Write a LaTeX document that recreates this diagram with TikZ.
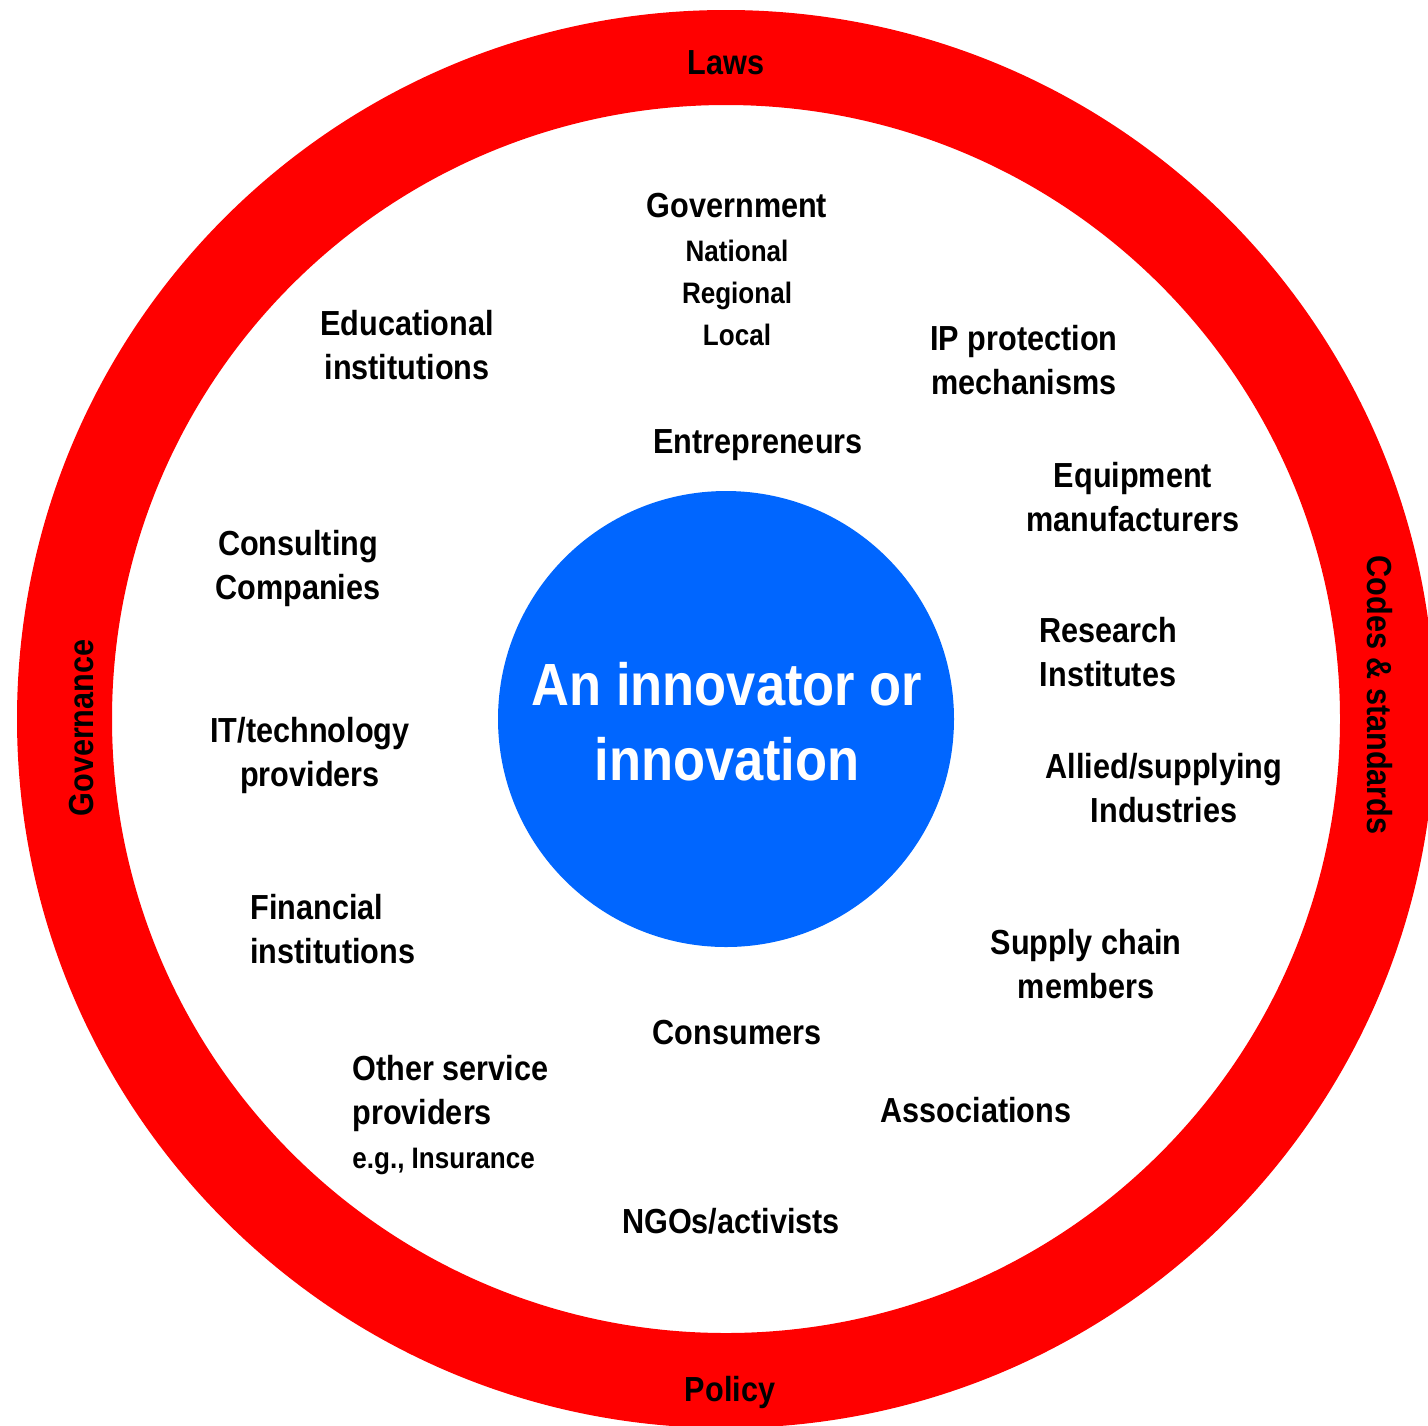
\documentclass[tikz,border=0pt]{standalone}
\usepackage{fontspec}
\setmainfont[FakeStretch=0.88]{Liberation Sans}
\definecolor{ringred}{RGB}{255,0,0}
\definecolor{coreblue}{RGB}{0,102,255}
\begin{document}
\begin{tikzpicture}[x=0.5pt,y=-0.5pt,
  lbl/.style={align=center,inner sep=0pt,font=\bfseries\fontsize{17.4}{22}\selectfont},
  sub/.style={align=center,inner sep=0pt,font=\bfseries\fontsize{14.8}{21}\selectfont},
  ringlbl/.style={inner sep=0pt,font=\bfseries\fontsize{17.4}{22}\selectfont}]
\useasboundingbox (0,0) rectangle (1428,1425);
\fill[white] (0,0) rectangle (1428,1425);
% ring
\fill[ringred,even odd rule] (726,719) circle (354.5pt) (726,719) circle (307pt);
\node[circle,fill=coreblue,minimum size=228pt,inner sep=0pt] (core) at (726,719) {};
\node[align=center,inner sep=0pt,text=white,font=\bfseries\fontsize{29.8}{37.5}\selectfont] (coretext) at (727,722) {An innovator or\\innovation};
% ring labels
\node[ringlbl] (laws) at (726,63) {Laws};
\node[ringlbl] (policy) at (730,1392) {Policy};
\node[ringlbl,rotate=90] (gov) at (82,728) {Governance};
\node[ringlbl,rotate=-90] (codes) at (1380,695) {Codes \& standards};
% actors
\node[lbl] (government) at (737,206) {Government};
\node[sub] (levels) at (737,293) {National\\Regional\\Local};
\node[lbl] (edu) at (407,345) {Educational\\institutions};
\node[lbl] (ip) at (1024,360) {IP protection\\mechanisms};
\node[lbl] (entre) at (758,445) {Entrepreneurs};
\node[lbl] (equip) at (1133,497) {Equipment\\manufacturers};
\node[lbl] (consult) at (298,568) {Consulting\\Companies};
\node[lbl] (research) at (1108,652) {Research\\Institutes};
\node[lbl] (it) at (310,755) {IT/technology\\providers};
\node[lbl] (allied) at (1164,788) {Allied/supplying\\Industries};
\node[lbl,align=left,anchor=west] (fin) at (250,929) {Financial\\institutions};
\node[lbl] (supply) at (1086,964) {Supply chain\\members};
\node[lbl] (consumers) at (737,1032) {Consumers};
\node[lbl,align=left,anchor=north west] (other) at (352,1055) {Other service\\providers\\{\fontsize{14.8}{21}\selectfont e.g., Insurance}};
\node[lbl] (assoc) at (976,1110) {Associations};
\node[lbl] (ngo) at (731,1221) {NGOs/activists};
\end{tikzpicture}
\end{document}
